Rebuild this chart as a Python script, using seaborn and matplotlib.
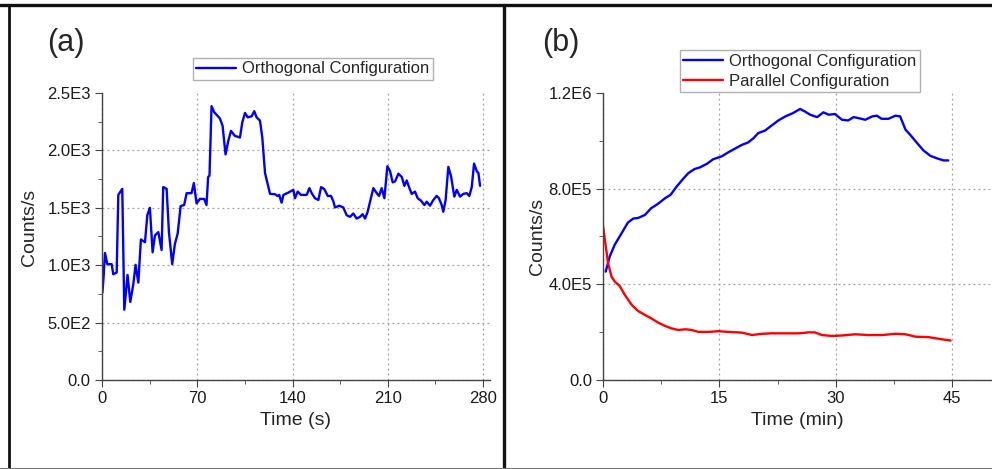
import matplotlib
matplotlib.use("Agg")
import matplotlib.pyplot as plt
import matplotlib.ticker as mtick
from matplotlib.lines import Line2D
import seaborn as sns
import pandas as pd

# ─── DATA ─────────────────────────────────────────────────────────────────────
time_a = [0.3, 1.2, 2.2, 3.9, 7.1, 8.3, 10.8, 12.0, 14.9, 16.4, 18.8, 20.8, 23.0,
          24.7, 26.7, 28.6, 31.6, 33.3, 35.2, 37.2, 38.9, 41.4, 43.8, 45.0, 47.5,
          49.2, 51.6, 53.6, 55.6, 57.8, 60.4, 62.2, 65.8, 67.5, 69.5, 72.0, 75.1,
          76.8, 78.0, 79.0, 80.5, 82.5, 86.6, 88.6, 90.8, 92.8, 94.8, 97.7, 101.4,
          103.1, 105.1, 107.1, 110.0, 111.9, 113.6, 116.1, 117.8, 119.8, 121.0,
          123.5, 127.1, 129.0, 130.2, 132.0, 133.3, 136.9, 140.6, 141.8, 143.8,
          146.2, 150.4, 152.4, 154.1, 156.5, 159.0, 161.0, 163.4, 165.9, 168.3,
          170.1, 171.2, 174.4, 177.3, 179.8, 182.3, 184.7, 187.1, 189.6, 191.5,
          193.3, 195.2, 197.0, 199.4, 201.9, 203.6, 205.5, 207.5, 209.7, 211.7,
          213.6, 215.4, 217.8, 220.3, 222.2, 223.9, 225.9, 227.6, 230.0, 232.0,
          234.4, 236.9, 238.6, 241.0, 243.5, 245.9, 247.6, 249.6, 250.8, 252.5,
          254.5, 256.5, 258.9, 260.7, 263.1, 265.5, 268.0, 269.9, 271.7, 273.4,
          275.4, 276.6, 277.8]
counts_a = [760, 900, 1106, 1009, 1009, 921, 936, 1612, 1665, 612, 915, 680, 833,
            1003, 848, 1224, 1200, 1435, 1500, 1112, 1259, 1288, 1133, 1680, 1665,
            1288, 1009, 1186, 1274, 1515, 1524, 1627, 1627, 1715, 1538, 1577, 1577,
            1524, 1768, 1780, 2385, 2332, 2279, 2215, 1965, 2082, 2170, 2126, 2112,
            2244, 2326, 2288, 2297, 2341, 2288, 2259, 2112, 1803, 1744,
            1621, 1618, 1603, 1612, 1544, 1612, 1632, 1656, 1583, 1641,
            1612, 1612, 1671, 1627, 1583, 1568, 1680, 1662, 1603, 1603,
            1553, 1503, 1518, 1503, 1435, 1421, 1450, 1406, 1421, 1444,
            1406, 1465, 1553, 1671, 1627, 1603, 1671, 1583, 1862, 1818,
            1721, 1730, 1797, 1768, 1691, 1738, 1671, 1621, 1641, 1583,
            1562, 1524, 1553, 1518, 1568, 1603, 1583, 1524, 1465, 1568,
            1856, 1774, 1597, 1656, 1597, 1621, 1627, 1603, 1680, 1885,
            1818, 1803, 1691]

time_orth = [0.34, 0.86, 1.5, 2.4, 3.2, 3.9, 4.5, 5.4, 6.2, 7.1, 8.0, 8.7, 9.5,
             10.3, 11.0, 11.8, 12.5, 13.4, 14.2, 15.3, 16.1, 17.0, 17.9, 18.7,
             19.4, 20.0, 20.9, 21.7, 22.6, 23.5, 24.5, 25.4, 26.0, 26.7, 27.6,
             28.4, 29.1, 29.9, 30.8, 31.6, 32.3, 32.9, 33.8, 34.7, 35.3, 35.9,
             36.8, 37.7, 38.3, 39.0, 39.6, 40.5, 41.3, 42.2, 43.1, 43.9, 44.5]
counts_orth = [453e3, 516e3, 565e3, 614e3, 658e3, 675e3, 677e3, 690e3, 718e3,
               737e3, 760e3, 774e3, 809e3, 840e3, 865e3, 882e3, 889e3, 904e3,
               923e3, 935e3, 951e3, 967e3, 983e3, 993e3, 1011e3, 1032e3, 1043e3,
               1063e3, 1085e3, 1102e3, 1116e3, 1133e3, 1123e3, 1109e3, 1099e3,
               1119e3, 1109e3, 1112e3, 1088e3, 1085e3, 1099e3, 1095e3, 1088e3,
               1102e3, 1105e3, 1092e3, 1092e3, 1105e3, 1102e3, 1046e3, 1025e3,
               990e3, 960e3, 937e3, 926e3, 918e3, 918e3]

time_par = [0.0, 0.3, 0.65, 1.1, 1.5, 2.15, 2.8, 3.7, 4.5, 5.4, 6.2, 7.1, 8.0,
            8.8, 9.7, 10.6, 11.4, 12.3, 13.6, 14.9, 16.1, 17.9, 19.2, 20.5, 21.7,
            23.5, 25.2, 26.5, 27.3, 28.2, 29.5, 30.8, 32.5, 34.2, 36.0, 37.7,
            39.0, 40.3, 42.0, 43.7, 44.8]
counts_par = [644e3, 572e3, 488e3, 432e3, 412e3, 393e3, 356e3, 314e3, 289e3,
              272e3, 258e3, 240e3, 226e3, 216e3, 209e3, 212e3, 209e3, 201e3,
              201e3, 204e3, 201e3, 198e3, 188e3, 193e3, 195e3, 195e3, 195e3,
              199e3, 199e3, 188e3, 184e3, 186e3, 191e3, 188e3, 188e3, 193e3,
              191e3, 181e3, 179e3, 170e3, 165e3]

xticks_a = [0, 70, 140, 210, 280]
yticks_a = [0, 500, 1000, 1500, 2000, 2500]
yticklabels_a = ["0.0", "5.0E2", "1.0E3", "1.5E3", "2.0E3", "2.5E3"]
xticks_b = [0, 15, 30, 45]
yticks_b = [0, 400000, 800000, 1200000]
yticklabels_b = ["0.0", "4.0E5", "8.0E5", "1.2E6"]

df_a = pd.DataFrame({"t": time_a, "c": counts_a})
df_orth = pd.DataFrame({"t": time_orth, "c": counts_orth})
df_par = pd.DataFrame({"t": time_par, "c": counts_par})

# ─── STYLE ────────────────────────────────────────────────────────────────────
sns.set_style("ticks")
plt.rcParams.update({
    "font.family": ["Liberation Sans", "DejaVu Sans"],
    "axes.edgecolor": "#444444",
    "axes.linewidth": 1.0,
    "xtick.color": "#444444",
    "ytick.color": "#444444",
    "xtick.labelcolor": "#1a1a1a",
    "ytick.labelcolor": "#1a1a1a",
    "xtick.major.size": 5,
    "ytick.major.size": 5,
    "xtick.minor.size": 3,
    "ytick.minor.size": 3,
    "xtick.direction": "out",
    "ytick.direction": "out",
})
BLUE, RED = "#0000ff", "#ff0000"

fig = plt.figure(figsize=(9.92, 4.69), dpi=100)
ax_a = fig.add_axes([0.1028, 0.1898, 0.391, 0.612])
ax_b = fig.add_axes([0.6079, 0.1898, 0.391, 0.612])

sns.lineplot(data=df_a, x="t", y="c", ax=ax_a, color=BLUE, lw=1.7,
             estimator=None, label="Orthogonal Configuration")
sns.lineplot(data=df_orth, x="t", y="c", ax=ax_b, color=BLUE, lw=1.7,
             estimator=None, label="Orthogonal Configuration")
sns.lineplot(data=df_par, x="t", y="c", ax=ax_b, color=RED, lw=1.7,
             estimator=None, label="Parallel Configuration")


def style_axes(ax, xt, yt, ytl, xlim, ylim, xlabel, ylab_x, ylab_y):
    ax.set_xlim(*xlim)
    ax.set_ylim(*ylim)
    ax.set_xticks(xt)
    ax.set_yticks(yt)
    ax.set_yticklabels(ytl)
    ax.xaxis.set_minor_locator(mtick.AutoMinorLocator(2))
    ax.yaxis.set_minor_locator(mtick.AutoMinorLocator(2))
    ax.tick_params(labelsize=12, pad=3)
    ax.grid(True, which="major", ls=(0, (1.5, 2.5)), color="#a0a0a0", lw=0.9)
    sns.despine(ax=ax)
    ax.set_xlabel(xlabel, fontsize=14)
    ax.set_ylabel("Counts/s", fontsize=14)
    ax.xaxis.set_label_coords(0.5, -0.11)
    ax.yaxis.set_label_coords(ylab_x, ylab_y)
    # no gridline along the top of the frame
    ax.yaxis.get_major_ticks()[-1].gridline.set_visible(False)
    ax.get_legend().remove()


style_axes(ax_a, xticks_a, yticks_a, yticklabels_a, (0, 285), (0, 2500),
           "Time (s)", -0.165, 0.53)
style_axes(ax_b, xticks_b, yticks_b, yticklabels_b, (0, 50), (0, 1200000),
           "Time (min)", -0.148, 0.50)

leg_kw = dict(loc="upper left", bbox_transform=fig.transFigure, fontsize=12,
              fancybox=False, edgecolor="#b0b0b0", framealpha=1, borderpad=0.2,
              handlelength=2.4, handletextpad=0.35, labelspacing=0.3,
              borderaxespad=0)
ha, la = ax_a.get_legend_handles_labels()
ax_a.legend(ha, la, bbox_to_anchor=(0.1946, 0.876), **leg_kw)
hb, lb = ax_b.get_legend_handles_labels()
ax_b.legend(hb, lb, bbox_to_anchor=(0.6855, 0.893), **leg_kw)

fig.text(0.048, 0.908, "(a)", fontsize=22, va="center", ha="left")
fig.text(0.547, 0.908, "(b)", fontsize=22, va="center", ha="left")

# outer frame and divider
fig.add_artist(Line2D([0.0, 1.0], [0.9883, 0.9883], transform=fig.transFigure,
                      color="#111111", lw=2.4))
fig.add_artist(Line2D([0.0092, 0.0092], [0.0, 0.99], transform=fig.transFigure,
                      color="#111111", lw=2.0))
fig.add_artist(Line2D([0.5076, 0.5076], [0.0, 0.99], transform=fig.transFigure,
                      color="#111111", lw=2.4))
fig.add_artist(Line2D([0.0, 1.0], [0.002, 0.002], transform=fig.transFigure,
                      color="#777777", lw=0.8))

fig.savefig("out.png", dpi=100)
